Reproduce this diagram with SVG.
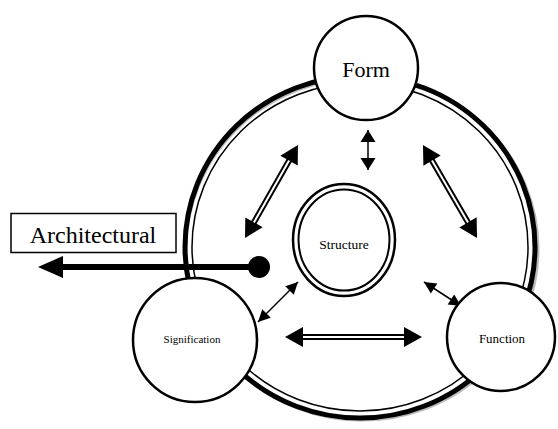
<svg xmlns="http://www.w3.org/2000/svg" width="558" height="429" viewBox="0 0 558 429">
<defs>
<style>
.ln{fill:none;stroke:#000}
.node{fill:#fff;stroke:#000;stroke-width:2.5}
.t{font-family:"Liberation Serif","Times New Roman",serif;fill:#000;text-anchor:middle}
.dbl{stroke:#000;stroke-width:6;fill:none}
.dblw{stroke:#fff;stroke-width:2;fill:none}
.thin{stroke:#000;stroke-width:1.5;fill:none}
</style>
<marker id="big" markerUnits="userSpaceOnUse" viewBox="-9 -11 20 22" markerWidth="20" markerHeight="22" refX="0" refY="0" orient="auto-start-reverse">
<path d="M10,0 L-8,-10 L-8,10 Z" fill="#000"/>
</marker>
<marker id="sm" markerUnits="userSpaceOnUse" viewBox="-13 -7 14 14" markerWidth="14" markerHeight="14" refX="0" refY="0" orient="auto-start-reverse">
<path d="M0,0 L-12,-6 L-12,6 Z" fill="#000"/>
</marker>
<marker id="vt" markerUnits="userSpaceOnUse" viewBox="-13 -8 14 16" markerWidth="14" markerHeight="16" refX="0" refY="0" orient="auto-start-reverse">
<path d="M0,0 L-12,-7.5 L-12,7.5 Z" fill="#000"/>
</marker>
</defs>
<rect width="558" height="429" fill="#fff"/>

<g id="ring">
<ellipse cx="362" cy="249" rx="176" ry="171" fill="none" stroke="#bbb" stroke-width="3"/>
<ellipse cx="360" cy="247" rx="175" ry="171" class="ln" stroke-width="5"/>
<ellipse cx="360" cy="247" rx="168" ry="164" class="ln" stroke-width="1.5"/>
</g>

<g id="structure">
<ellipse cx="344" cy="240" rx="51" ry="56" class="ln" stroke-width="2.5"/>
<ellipse cx="344" cy="240" rx="45.5" ry="50.5" class="ln" stroke-width="2"/>
<text class="t" x="344" y="249" font-size="13.5">Structure</text>
</g>

<g id="connectors">
<line class="dbl" x1="250" y1="229.3" x2="293" y2="153.7" marker-start="url(#big)" marker-end="url(#big)"/>
<line class="dblw" x1="253.9" y1="222.4" x2="289.1" y2="160.6"/>
<line class="dbl" x1="472" y1="229.3" x2="428" y2="153.7" marker-start="url(#big)" marker-end="url(#big)"/>
<line class="dblw" x1="468" y1="222.4" x2="432" y2="160.6"/>
<line class="dbl" x1="295" y1="337" x2="412" y2="337" marker-start="url(#big)" marker-end="url(#big)"/>
<line class="dblw" x1="303" y1="337" x2="404" y2="337"/>
<line class="thin" x1="368" y1="130" x2="368" y2="170" marker-start="url(#vt)" marker-end="url(#vt)"/>
<line class="thin" x1="258" y1="322" x2="298" y2="282" marker-start="url(#sm)" marker-end="url(#sm)"/>
<line class="thin" x1="424" y1="282" x2="461" y2="306" marker-start="url(#sm)" marker-end="url(#sm)"/>
</g>

<g id="form">
<circle cx="366" cy="68" r="52" class="node"/>
<text class="t" x="366" y="77" font-size="22">Form</text>
</g>

<g id="signification">
<circle cx="195" cy="340" r="62" class="node"/>
<text class="t" x="192" y="343" font-size="11">Signification</text>
</g>

<g id="function">
<circle cx="501" cy="337" r="54" class="node"/>
<text class="t" x="502" y="343" font-size="13">Function</text>
</g>

<g id="architectural">
<rect x="11" y="213.5" width="165" height="39" fill="#fff" stroke="#000" stroke-width="1.5"/>
<text class="t" x="93" y="243" font-size="24">Architectural</text>
<line x1="60" y1="267" x2="258" y2="267" stroke="#000" stroke-width="6"/>
<path d="M38,267 L63,256 L63,278 Z" fill="#000"/>
<circle cx="259" cy="267" r="11" fill="#000"/>
</g>
</svg>
